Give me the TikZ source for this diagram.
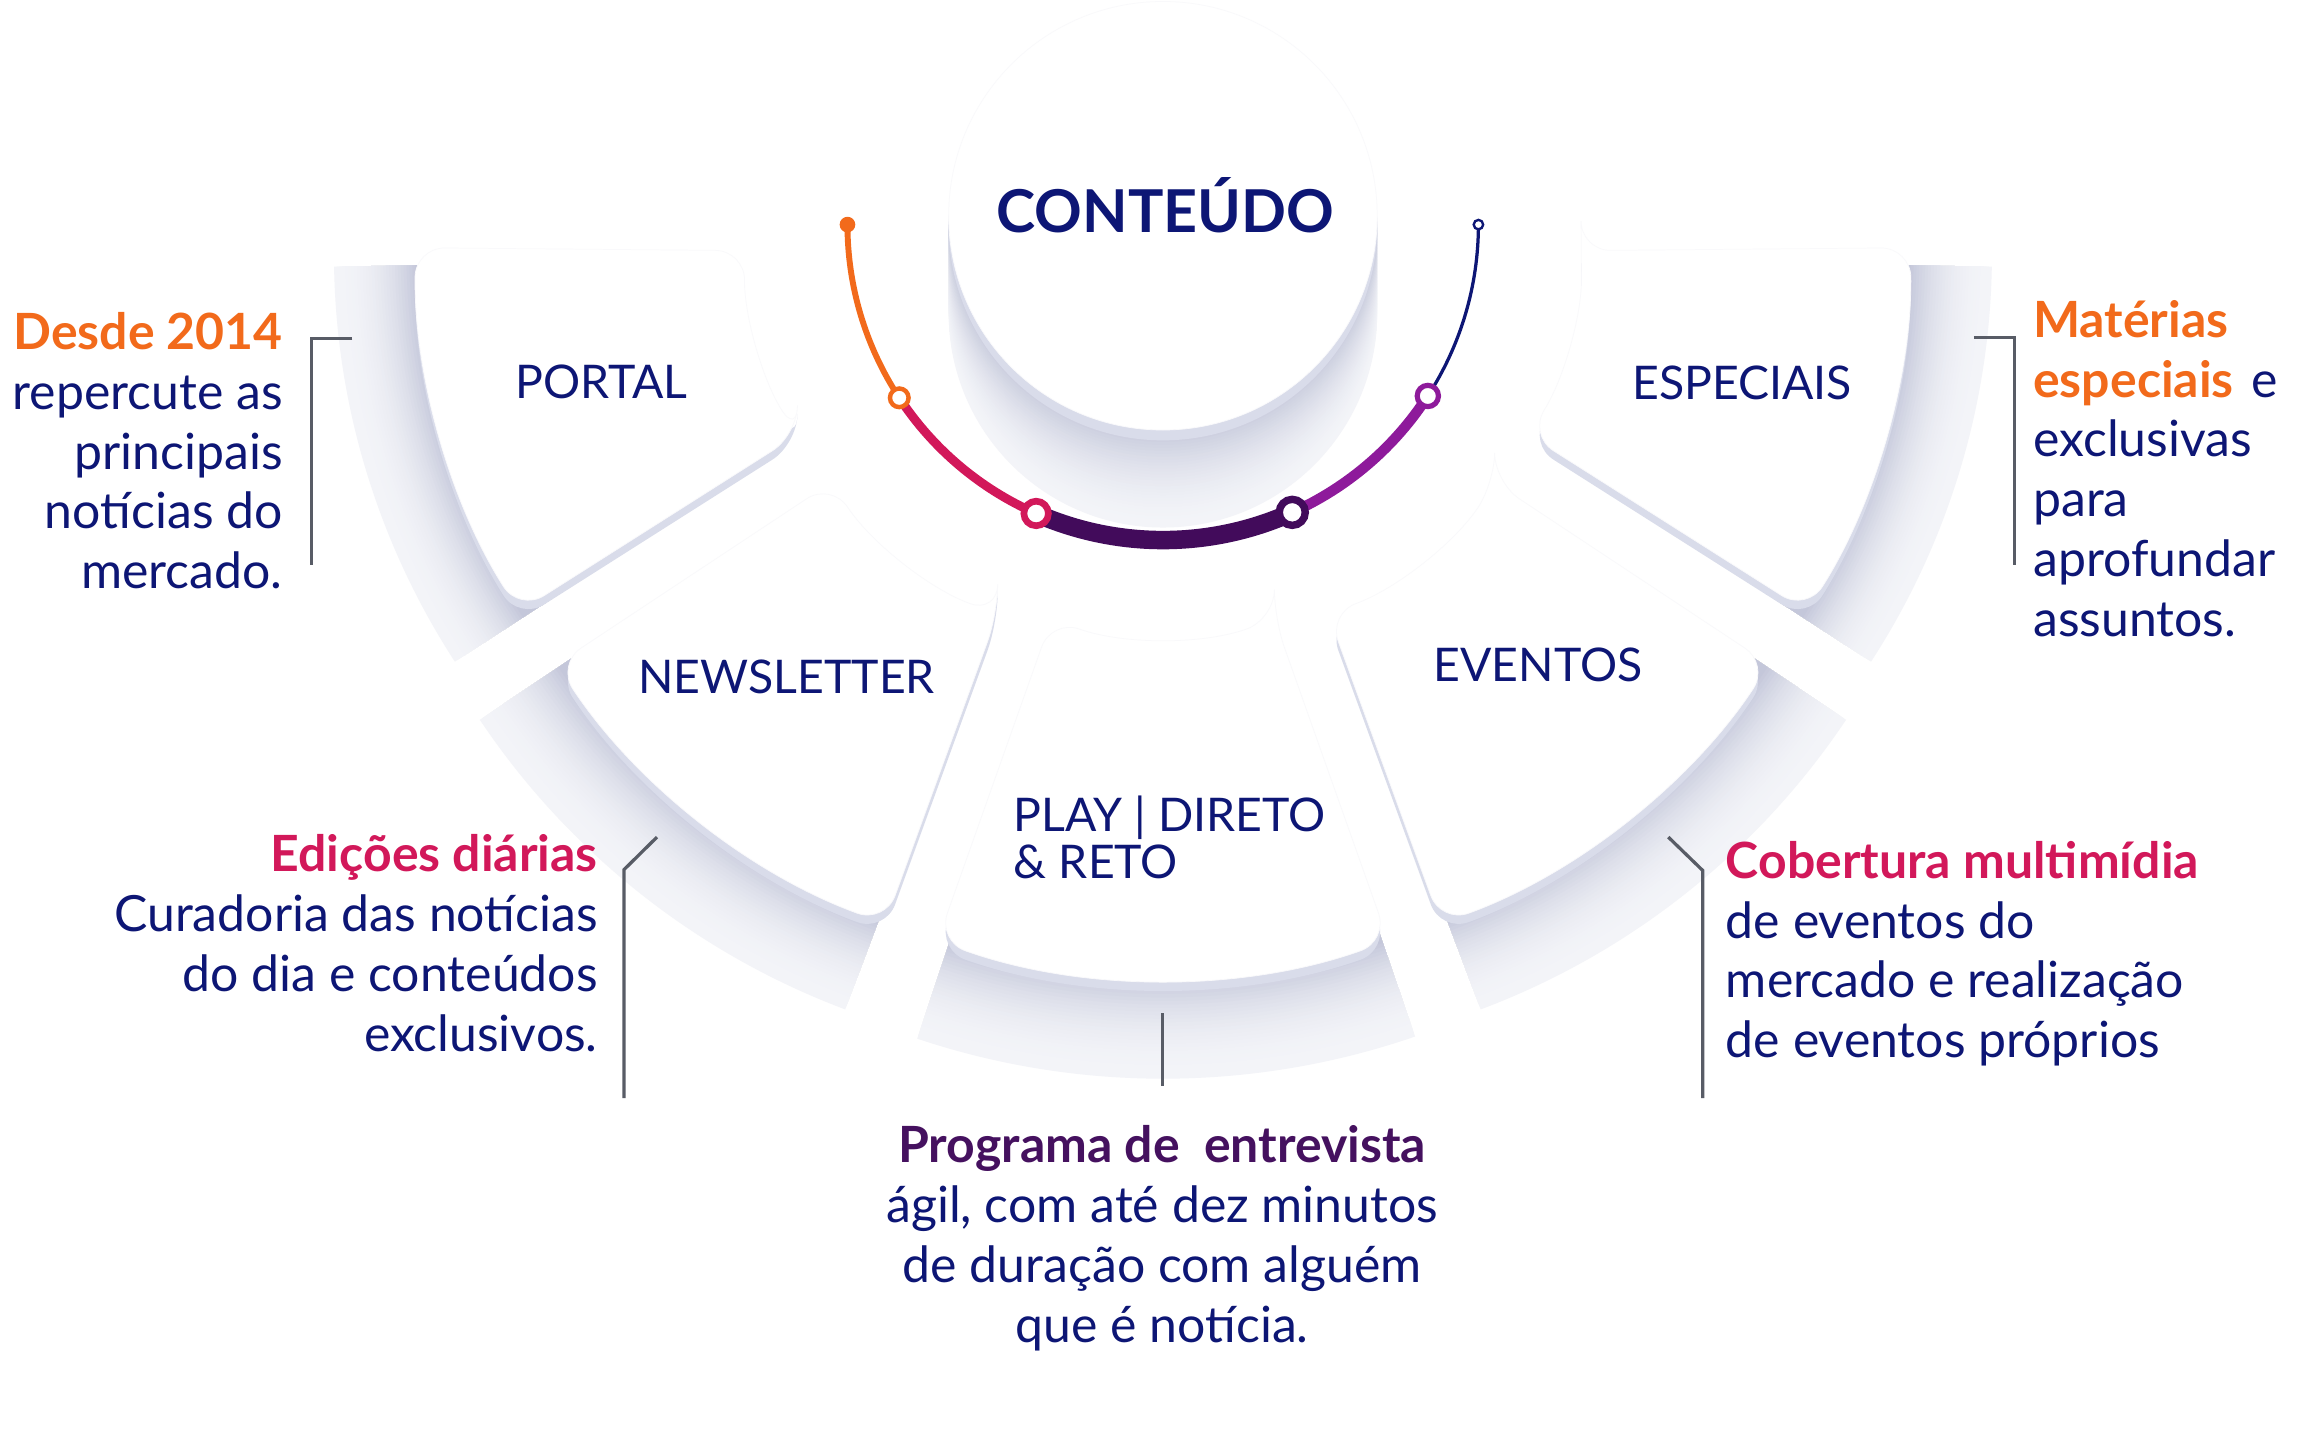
\documentclass[tikz,border=0pt]{standalone}
\usepackage{fontspec}
\setmainfont{Lato}
\usetikzlibrary{calc}
\definecolor{cNavy}{HTML}{0D1675}
\definecolor{cOrange}{HTML}{F26A1B}
\definecolor{cCrimson}{HTML}{D2185A}
\definecolor{cPlum}{HTML}{45115F}
\definecolor{cDark}{HTML}{420B5B}
\definecolor{cViolet}{HTML}{8E1A9B}
\definecolor{cLine}{HTML}{585C66}
\definecolor{cRim}{HTML}{D9DCEA}
\definecolor{cEdge}{HTML}{F9F9FB}
\definecolor{cBandD}{HTML}{C4C7DA}
\definecolor{cBandL}{HTML}{F3F4F8}
\newcommand\secpath[6]{([shift={(#1,#2)}]#3:#5) -- ([shift={(#1,#2)}]#3:#6) arc[start angle=#3,end angle=#4,radius=#6] -- ([shift={(#1,#2)}]#4:#5) arc[start angle=#4,end angle=#3,radius=#5] -- cycle}
\newcommand\bandsec[6]{% cx cy a1 a2 r2 R
  \foreach \k in {0,...,28}{%
    \pgfmathsetmacro\rr{#6-(#6-#5)*\k/28}%
    \pgfmathsetmacro\ww{100*(\k/28)^2.2}%
    \pgfmathsetmacro\rin{#5-45}%
    \fill[cBandD!\ww!cBandL] \secpath{#1}{#2}{#3}{#4}{\rin}{\rr};
  }}
\newcommand\cardsec[6]{% cx cy a1 a2 r1 r2
  \fill[cRim, rounded corners=20pt, shift={(0,6)}] \secpath{#1}{#2}{#3}{#4}{#5}{#6};
  \fill[white, draw=cEdge, line width=0.5pt, rounded corners=20pt] \secpath{#1}{#2}{#3}{#4}{#5}{#6};
}
\tikzset{
  txt/.style={inner sep=0pt, text=cNavy, font=\fontsize{33.8}{40.5}\selectfont},
  lbl/.style={inner sep=0pt, text=cNavy, font=\fontsize{31.4}{29.3}\selectfont},
  leader/.style={draw=cLine, line width=2.2pt},
  ring/.style={circle, fill=white, inner sep=0pt},
}
\begin{document}
\begin{tikzpicture}[x=1pt,y=-1pt]
\useasboundingbox[fill=white] (0,0) rectangle (1568,979);

% ---- outer bands (shadowed rims) ----
\bandsec{733}{171.6}{147}{179}{452}{507}
\bandsec{841}{171.6}{1}{33}{452}{507}
\bandsec{753.5}{200.1}{110.6}{146.2}{452}{516}
\bandsec{820.5}{200.1}{33.8}{69.4}{452}{516}
\bandsec{787}{206}{71}{108.5}{457}{524}

% ---- cards ----
\cardsec{733}{171.6}{147.6}{180.5}{229}{452}
\cardsec{841}{171.6}{-0.5}{32.4}{229}{452}
\cardsec{753.5}{200.1}{110}{146.5}{229}{452}
\cardsec{820.5}{200.1}{33.5}{70}{229}{452}
\cardsec{787}{206}{70.5}{109.5}{226}{457}

% ---- central cylinder ----
\foreach \t in {66,64,...,8}{%
  \pgfmathsetmacro\ww{100*(1-\t/66)^1.8}%
  \fill[cBandD!\ww!cBandL] (787,146+\t) circle[radius=145];
}
\fill[cRim] (787,153) circle[radius=145];
\fill[white, draw=cEdge, line width=0.5pt] (787,146) circle[radius=145];
\node[inner sep=0pt, text=cNavy, font=\fontsize{40}{40}\selectfont\bfseries, anchor=base] (title) at (788.6,157.2) {CONTEÚDO};

% ---- coloured arc ----
\coordinate (ac) at (787,152);
\coordinate (p0) at ([shift={(787,152)}]180:213.5);
\coordinate (p1) at ([shift={(787,152)}]146.7:213.5);
\coordinate (p2) at ([shift={(787,152)}]113.7:213.5);
\coordinate (p3) at ([shift={(787,152)}]65.8:213.5);
\coordinate (p4) at ([shift={(787,152)}]32.9:213.5);
\coordinate (p5) at ([shift={(787,152)}]0:213.5);
\draw[cOrange, line width=4pt] (p0) arc[start angle=180, end angle=146.7, radius=213.5];
\draw[cCrimson, line width=6pt] (p1) arc[start angle=146.7, end angle=113.7, radius=213.5];
\draw[cDark, line width=12.5pt] (p2) arc[start angle=113.7, end angle=65.8, radius=213.5];
\draw[cViolet, line width=7pt] (p3) arc[start angle=65.8, end angle=32.9, radius=213.5];
\draw[cNavy, line width=2.2pt] (p4) arc[start angle=32.9, end angle=0, radius=213.5];
\node[circle, fill=cOrange, inner sep=0pt, minimum size=10.6pt] (n0) at (p0) {};
\node[ring, draw=cOrange, line width=3pt, minimum size=12.6pt] (n1) at (p1) {};
\node[ring, draw=cCrimson, line width=4.5pt, minimum size=16.6pt] (n2) at (p2) {};
\node[ring, draw=cDark, line width=5pt, minimum size=17.6pt] (n3) at (p3) {};
\node[ring, draw=cViolet, line width=3.5pt, minimum size=14.4pt] (n4) at (p4) {};
\node[ring, draw=cNavy, line width=1.6pt, minimum size=6.4pt] (n5) at (p5) {};

% ---- card labels ----
\node[lbl, anchor=base west] (portal) at (348.5,269.5) {PORTAL};
\node[lbl, anchor=base west] (news) at (431.7,469.1) {NEWSLETTER};
\node[lbl, anchor=base west] (play) at (686,562.7) {\begin{tabular}[t]{@{}l@{}}PLAY | DIRETO\\\& RETO\end{tabular}};
\node[lbl, anchor=base west] (eventos) at (970,461.2) {EVENTOS};
\node[lbl, anchor=base west] (especiais) at (1104.5,270.6) {ESPECIAIS};

% ---- leader lines ----
\coordinate (l1a) at (238.4,228.9); \coordinate (l1b) at (211,228.9); \coordinate (l1c) at (211,382.3);
\draw[leader] (l1a) -- (l1b) -- (l1c);
\coordinate (l2a) at (1335.7,228.2); \coordinate (l2b) at (1363.4,228.2); \coordinate (l2c) at (1363.4,382.3);
\draw[leader] (l2a) -- (l2b) -- (l2c);
\coordinate (l3a) at (444.6,566.5); \coordinate (l3b) at (422.2,588.6); \coordinate (l3c) at (422.2,743.1);
\draw[leader] (l3a) -- (l3b) -- (l3c);
\coordinate (l4a) at (1129,566.5); \coordinate (l4b) at (1152.3,589.1); \coordinate (l4c) at (1152.3,743.1);
\draw[leader] (l4a) -- (l4b) -- (l4c);
\coordinate (l5a) at (786.9,685.6); \coordinate (l5b) at (786.9,735.2);
\draw[leader] (l5a) -- (l5b);

% ---- descriptions ----
\node[txt, anchor=base east] (dportal) at (191.5,236.4) {\begin{tabular}[t]{@{}r@{}}\textbf{\color{cOrange}Desde 2014}\\repercute as\\principais\\notícias do\\mercado.\end{tabular}};
\node[txt, anchor=base west] (despeciais) at (1375.8,228.2) {\begin{tabular}[t]{@{}l@{}}\textbf{\color{cOrange}Matérias}\\\textbf{\color{cOrange}especiais}\hspace{12pt}e\\exclusivas\\para\\aprofundar\\assuntos.\end{tabular}};
\node[txt, anchor=base east] (dnews) at (404.7,589.8) {\begin{tabular}[t]{@{}r@{}}\textbf{\color{cCrimson}Edições diárias}\\Curadoria das notícias\\do dia e conteúdos\\exclusivos.\end{tabular}};
\node[txt, anchor=base west] (deventos) at (1167.8,594.3) {\begin{tabular}[t]{@{}l@{}}\textbf{\color{cCrimson}Cobertura multimídia}\\de eventos do\\mercado e realização\\de eventos próprios\end{tabular}};
\node[txt, anchor=base] (dplay) at (786.5,787) {\begin{tabular}[t]{@{}c@{}}\textbf{\color{cPlum}Programa de\ \ entrevista}\\ágil, com até dez minutos\\de duração com alguém\\que é notícia.\end{tabular}};
\end{tikzpicture}
\end{document}
